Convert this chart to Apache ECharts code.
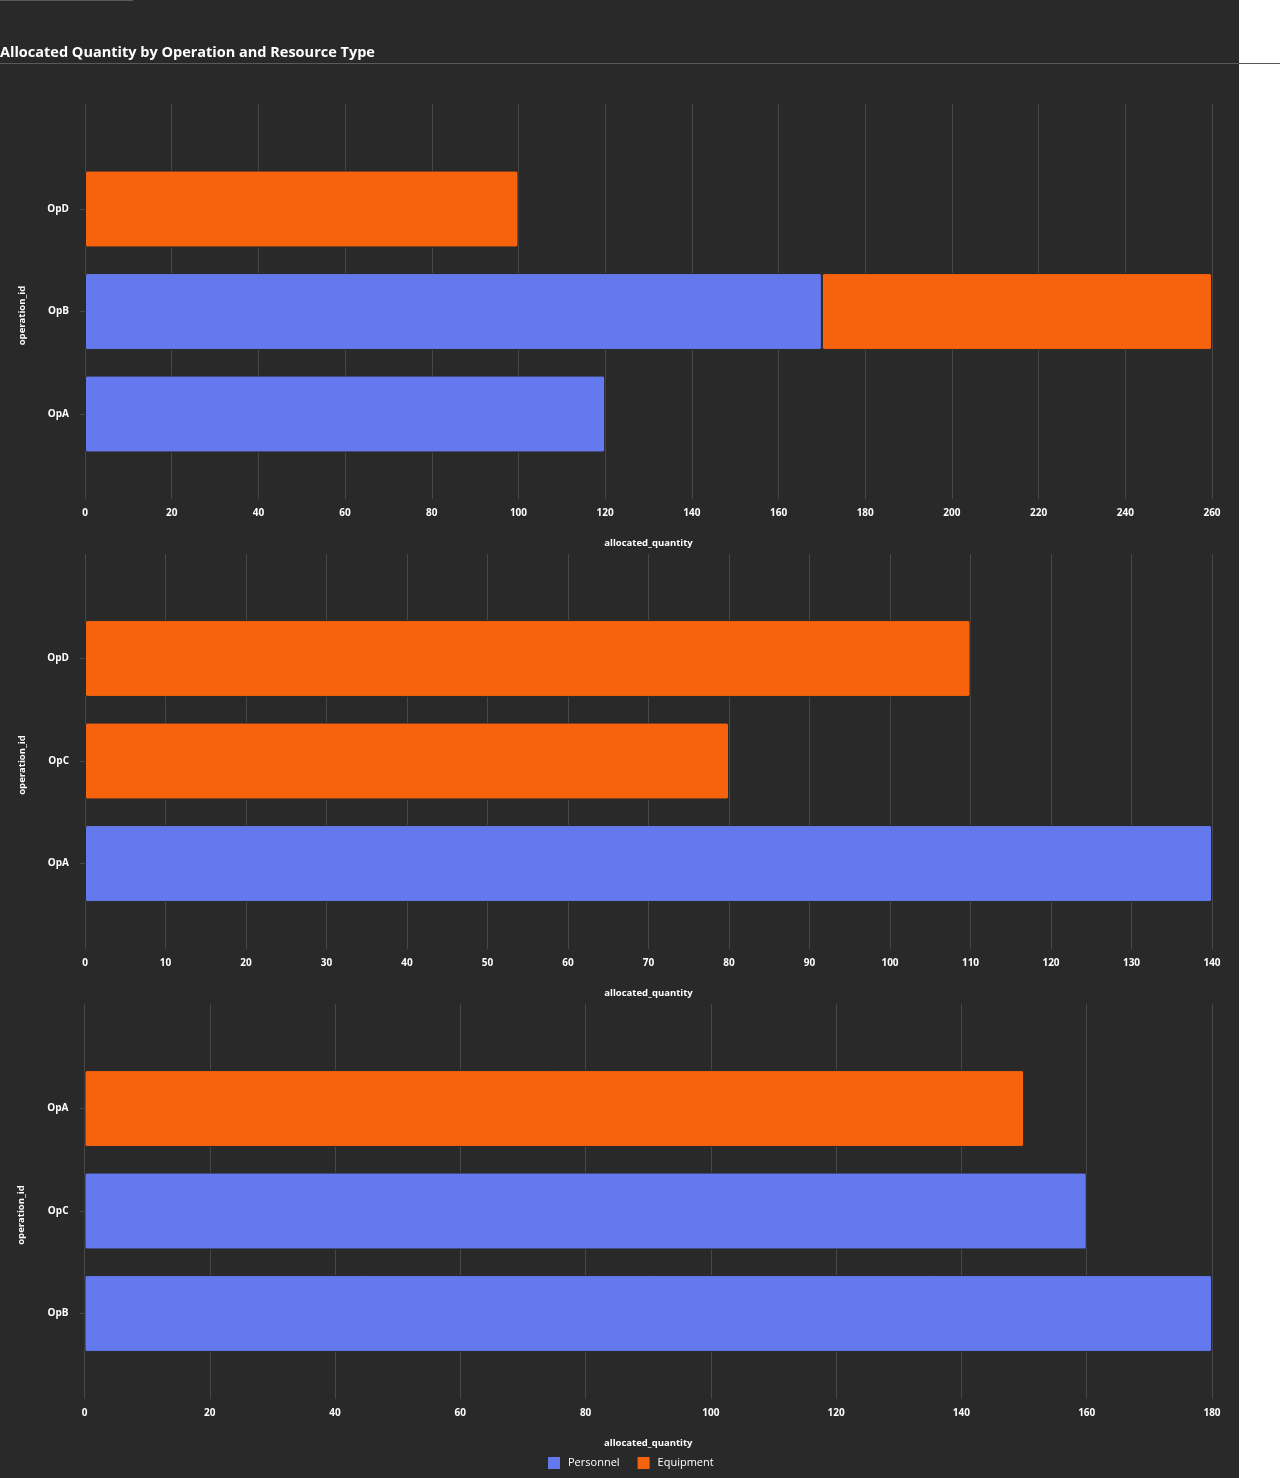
<!DOCTYPE html>
<html><head><meta charset="utf-8">
<script src="https://cdn.jsdelivr.net/npm/echarts@6/dist/echarts.min.js"></script>
<style>html,body{margin:0;padding:0;background:#fff}#c{width:1280px;height:1478px}</style>
</head><body><div id="c"></div>
<script>
// ---- data ----
const titleText = 'Allocated Quantity by Operation and Resource Type';
const resourceTypes = ['Personnel', 'Equipment'];
const xAxisName = 'allocated_quantity';
const yAxisName = 'operation_id';

const p1Categories = ['OpA', 'OpB', 'OpD'];
const p1Personnel  = [120, 170, null];
const p1Equipment  = [null, 90, 100];
const p1Max = 260, p1Interval = 20;

const p2Categories = ['OpA', 'OpC', 'OpD'];
const p2Personnel  = [140, null, null];
const p2Equipment  = [null, 80, 110];
const p2Max = 140, p2Interval = 10;

const p3Categories = ['OpB', 'OpC', 'OpA'];
const p3Personnel  = [180, 160, null];
const p3Equipment  = [null, null, 150];
const p3Max = 180, p3Interval = 20;

// ---- layout / style ----
const BG = '#292929';
const BLUE = '#6479EE';
const ORANGE = '#F7630C';
const GRIDLINE = '#474747';
const FONT = '"Open Sans", "Noto Sans", sans-serif';

const panels = [
  {cats: p1Categories, pers: p1Personnel, equip: p1Equipment, max: p1Max, interval: p1Interval, frameTop: 104, barTop: 157.75, left: 85},
  {cats: p2Categories, pers: p2Personnel, equip: p2Equipment, max: p2Max, interval: p2Interval, frameTop: 554, barTop: 607.25, left: 85},
  {cats: p3Categories, pers: p3Personnel, equip: p3Equipment, max: p3Max, interval: p3Interval, frameTop: 1004, barTop: 1057.25, left: 84.5}
];
const RIGHT_EDGE = 1212;
const FRAME_H = 395;
const BAND = 102.5;

const grid = [], xAxis = [], yAxis = [], series = [];
panels.forEach((p, i) => {
  const w = RIGHT_EDGE - p.left;
  // frame grid: gridlines, x labels, x name
  grid.push({left: p.left, top: p.frameTop, width: w, height: FRAME_H, containLabel: false});
  // bar grid
  grid.push({left: p.left, top: p.barTop, width: w, height: BAND * p.cats.length, containLabel: false});
  const fi = 2 * i, bi = 2 * i + 1;
  xAxis.push({
    gridIndex: fi, type: 'value', min: 0, max: p.max, interval: p.interval,
    axisLine: {show: false}, axisTick: {show: false},
    splitLine: {show: true, lineStyle: {color: GRIDLINE, width: 1}},
    axisLabel: {color: '#fff', fontSize: 10, fontWeight: 'bold', fontFamily: FONT, margin: 9},
    name: xAxisName, nameLocation: 'middle', nameGap: 39,
    nameTextStyle: {color: '#fff', fontSize: 9.5, fontWeight: 'bold', fontFamily: FONT}
  });
  yAxis.push({gridIndex: fi, type: 'value', show: false});
  xAxis.push({gridIndex: bi, type: 'value', min: 0, max: p.max, show: false});
  yAxis.push({
    gridIndex: bi, type: 'category', data: p.cats,
    axisLine: {show: false},
    axisTick: {show: true, alignWithLabel: true, length: 5, lineStyle: {color: GRIDLINE}},
    axisLabel: {color: '#fff', fontSize: 10, fontWeight: 'bold', fontFamily: FONT, margin: 16},
    splitLine: {show: false},
    name: yAxisName, nameLocation: 'middle', nameGap: 58,
    nameTextStyle: {color: '#fff', fontSize: 9.5, fontWeight: 'bold', fontFamily: FONT, padding: [0, 8, 0, 0]}
  });
  [[resourceTypes[0], p.pers, BLUE], [resourceTypes[1], p.equip, ORANGE]].forEach(([nm, data, col]) => {
    series.push({
      type: 'bar', name: nm, data: data, xAxisIndex: bi, yAxisIndex: bi,
      stack: 'panel' + i, barCategoryGap: '25%',
      itemStyle: {color: col, borderRadius: 2, borderColor: BG, borderWidth: 1},
      emphasis: {disabled: true}
    });
  });
});

const chart = echarts.init(document.getElementById('c'), null, {renderer: 'canvas'});
chart.setOption({
  backgroundColor: BG,
  animation: false,
  title: {
    text: titleText, left: 0, top: 45, padding: 0,
    textStyle: {color: '#fff', fontSize: 14.5, fontWeight: 'bold', fontFamily: FONT}
  },
  legend: {
    data: resourceTypes, left: 546, top: 1455, itemWidth: 14, itemHeight: 14, itemGap: 16,
    icon: 'rect', padding: 0,
    textStyle: {color: '#fff', fontSize: 11, fontFamily: FONT, padding: [0, 0, 0, 2]}
  },
  graphic: [
    {type: 'rect', shape: {x: 1239, y: 0, width: 41, height: 1478}, style: {fill: '#fff'}, silent: true},
    {type: 'line', shape: {x1: 0, y1: 63.5, x2: 1280, y2: 63.5}, style: {stroke: '#595959', lineWidth: 1}, silent: true},
    {type: 'line', shape: {x1: 0, y1: 0.5, x2: 133, y2: 0.5}, style: {stroke: '#595959', lineWidth: 1}, silent: true}
  ],
  grid, xAxis, yAxis, series
});
</script></body></html>
